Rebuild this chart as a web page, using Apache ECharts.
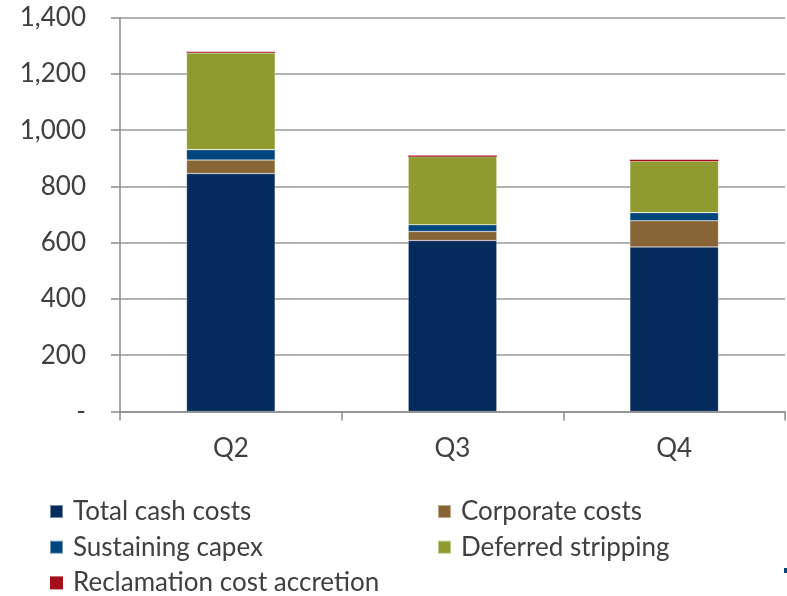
<!DOCTYPE html>
<html>
<head>
<meta charset="utf-8">
<script src="https://cdn.jsdelivr.net/npm/echarts@6/dist/echarts.min.js"></script>
<style>
html,body{margin:0;padding:0;background:#fff;}
#chart{width:787px;height:596px;}
</style>
</head>
<body>
<div id="chart"></div>
<script>
const categories = ['Q2', 'Q3', 'Q4'];
const totalCashCosts = [846, 608, 585];
const corporateCosts = [48, 32, 93];
const sustainingCapex = [37, 24, 29];
const deferredStripping = [344, 242, 183];
const reclamationAccretion = [4, 4, 5];
const yTicks = { min: 0, max: 1400, interval: 200 };

const seriesDefs = [
  { name: 'Total cash costs', data: totalCashCosts, color: '#042b5b', border: true },
  { name: 'Corporate costs', data: corporateCosts, color: '#876535', border: true },
  { name: 'Sustaining capex', data: sustainingCapex, color: '#00457b', border: true },
  { name: 'Deferred stripping', data: deferredStripping, color: '#8f9a2f', border: true },
  { name: 'Reclamation cost accretion', data: reclamationAccretion, color: '#a30f1a', border: false }
];

const font = 'Lato, "Open Sans", sans-serif';
const textColor = '#404040';
const fs = 26;
const chart = echarts.init(document.getElementById('chart'), null, { renderer: 'canvas' });

const legendCommon = {
  orient: 'vertical',
  padding: 0,
  itemWidth: 13,
  itemHeight: 13,
  itemGap: 9.7,
  icon: 'rect',
  selectedMode: false,
  textStyle: { fontFamily: font, fontSize: fs, color: textColor, lineHeight: 26, padding: [0, 0, 0, 5] }
};

chart.setOption({
  animation: false,
  backgroundColor: '#fff',
  grid: { left: 120, right: 2, top: 17.7, bottom: 184.5, containLabel: false },
  legend: [
    Object.assign({}, legendCommon, { left: 49, top: 498.5, data: ['Total cash costs', 'Sustaining capex', 'Reclamation cost accretion'] }),
    Object.assign({}, legendCommon, { left: 437, top: 498.5, data: ['Corporate costs', 'Deferred stripping'] })
  ],
  xAxis: {
    type: 'category',
    data: categories,
    axisLine: { lineStyle: { color: '#8c8c8c', width: 1.5 } },
    axisTick: { show: true, length: 9, lineStyle: { color: '#8c8c8c', width: 1.5 } },
    axisLabel: { fontFamily: font, fontSize: fs, color: textColor, margin: 24 },
    splitLine: { show: false }
  },
  yAxis: {
    type: 'value',
    min: yTicks.min,
    max: yTicks.max,
    interval: yTicks.interval,
    axisLine: { show: true, lineStyle: { color: '#8c8c8c', width: 1.5 } },
    axisTick: { show: true, length: 9, lineStyle: { color: '#8c8c8c', width: 1.5 } },
    axisLabel: {
      fontFamily: font, fontSize: fs, color: textColor, margin: 34,
      padding: [5, 0, 0, 0],
      formatter: v => v === 0 ? '-' : v.toLocaleString('en-US')
    },
    splitLine: { show: true, lineStyle: { color: '#9a9a9a', width: 1.5 } }
  },
  series: seriesDefs.map(s => ({
    name: s.name,
    type: 'bar',
    stack: 'total',
    data: s.data,
    barCategoryGap: '60%',
    itemStyle: s.border
      ? { color: s.color, borderColor: 'rgba(255,255,255,0.45)', borderWidth: 0.6 }
      : { color: s.color, borderWidth: 0 }
  })),
  graphic: [
    { type: 'rect', shape: { x: 784, y: 568, width: 3, height: 5 }, style: { fill: '#00457b' } }
  ]
});
</script>
</body>
</html>
